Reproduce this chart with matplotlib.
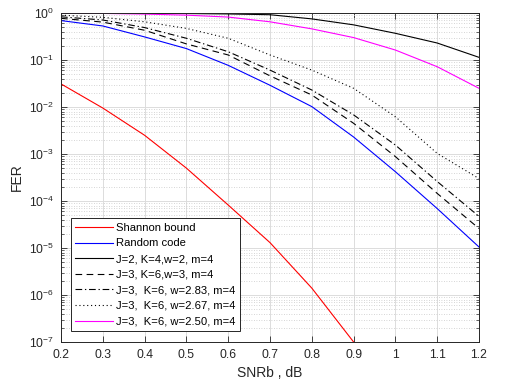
import matplotlib
matplotlib.use("Agg")
import matplotlib.pyplot as plt
from matplotlib.ticker import LogLocator, NullFormatter, FixedLocator

plt.rcParams['font.family'] = ['Liberation Sans', 'DejaVu Sans']
plt.rcParams['mathtext.fontset'] = 'custom'
plt.rcParams['mathtext.rm'] = 'Liberation Sans'

snr = [0.2, 0.3, 0.4, 0.5, 0.6, 0.7, 0.8, 0.9, 1.0, 1.1, 1.2]

shannon = [0.031, 0.0095, 2.5e-3, 5e-4, 8.2e-5, 1.3e-5, 1.4e-6, 1.0e-7, 6e-9, 3e-10, 1e-11]
random_code = [0.69, 0.53, 0.31, 0.175, 0.077, 0.029, 0.0102, 2.3e-3, 4.2e-4, 6.9e-5, 1.05e-5]
j2_k4 = [0.998, 0.995, 0.99, 0.975, 0.955, 0.92, 0.75, 0.56, 0.37, 0.23, 0.114]
j3_w3 = [0.77, 0.64, 0.43, 0.22, 0.128, 0.046, 0.018, 4.5e-3, 8.8e-4, 1.45e-4, 2.6e-5]
j3_w283 = [0.83, 0.71, 0.49, 0.29, 0.15, 0.061, 0.023, 6.8e-3, 1.55e-3, 2.6e-4, 4.7e-5]
j3_w267 = [0.9, 0.81, 0.65, 0.47, 0.29, 0.128, 0.061, 0.025, 6.2e-3, 1.03e-3, 3.0e-4]
j3_w250 = [0.99, 0.98, 0.95, 0.9, 0.82, 0.65, 0.46, 0.30, 0.163, 0.072, 0.025]

labels = ["Shannon bound", "Random code", "J=2, K=4,w=2, m=4", "J=3, K=6,w=3, m=4",
          "J=3,  K=6, w=2.83, m=4", "J=3,  K=6, w=2.67, m=4", "J=3,  K=6, w=2.50, m=4"]
xtick_vals = [0.2, 0.3, 0.4, 0.5, 0.6, 0.7, 0.8, 0.9, 1.0, 1.1, 1.2]
xtick_labels = ["0.2", "0.3", "0.4", "0.5", "0.6", "0.7", "0.8", "0.9", "1", "1.1", "1.2"]

fig = plt.figure(figsize=(5.18, 3.92), dpi=100)
ax = fig.add_axes([0.1178, 0.1276, 0.8069, 0.8392])

lw = 0.8
ax.semilogy(snr, shannon, color='#ff0000', lw=lw, label=labels[0])
ax.semilogy(snr, random_code, color='#0000ff', lw=lw, label=labels[1])
ax.semilogy(snr, j2_k4, color='black', lw=lw, label=labels[2])
ax.semilogy(snr, j3_w3, color='black', lw=lw, ls=(0, (6, 4)), label=labels[3])
ax.semilogy(snr, j3_w283, color='black', lw=lw, ls=(0, (6, 2.5, 1.2, 2.5)), label=labels[4])
ax.semilogy(snr, j3_w267, color='black', lw=lw, ls=(0, (1, 2.5)), label=labels[5])
ax.semilogy(snr, j3_w250, color='#ff00ff', lw=lw, label=labels[6])

ax.set_xlim(0.2, 1.2)
ax.set_ylim(1e-7, 1)
ax.xaxis.set_major_locator(FixedLocator(xtick_vals))
ax.set_xticklabels(xtick_labels)
ax.yaxis.set_major_locator(LogLocator(base=10, numticks=20))
ax.yaxis.set_minor_locator(LogLocator(base=10, subs=range(2, 10), numticks=20))
ax.yaxis.set_minor_formatter(NullFormatter())

ax.grid(True, which='major', color='#dcdcdc', lw=0.7, ls='-')
ax.grid(True, which='minor', axis='y', color='#c8c8c8', lw=0.6, ls=(0, (1, 2)))
ax.set_axisbelow(True)

ax.tick_params(which='both', direction='in', top=True, right=True, labelsize=8.7, colors='#262626')
ax.tick_params(which='major', length=4, width=0.6, pad=5)
ax.tick_params(which='minor', length=2, width=0.5)
for s in ax.spines.values():
    s.set_color('#262626')
    s.set_linewidth(0.7)

ax.set_xlabel("SNRb , dB", fontsize=10, color='#262626', labelpad=4)
ax.set_ylabel("FER", fontsize=10, color='#262626')

leg = ax.legend(loc='lower left', bbox_to_anchor=(0.023, 0.033), fontsize=8.1,
                frameon=True, fancybox=False, edgecolor='#262626', framealpha=1,
                handlelength=3.4, handletextpad=0.27, labelspacing=0.5, borderpad=0.4,
                borderaxespad=0)
leg.get_frame().set_linewidth(0.7)

fig.savefig("out.png", dpi=100)
